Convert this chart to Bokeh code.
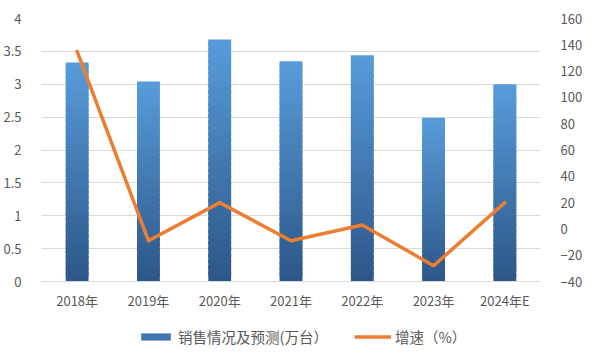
from bokeh.plotting import figure
from bokeh.layouts import column
from bokeh.models import (Range1d, LinearAxis, FixedTicker, Legend, LegendItem,
                          ColumnDataSource, FactorRange)
from bokeh.embed import file_html
from bokeh.resources import INLINE

years = ["2018年", "2019年", "2020年", "2021年", "2022年", "2023年", "2024年E"]
sales = [3.33, 3.04, 3.68, 3.35, 3.44, 2.49, 3.0]
growth = [135, -9, 20, -9, 3, -28, 20]
left_ticks = [0, 0.5, 1, 1.5, 2, 2.5, 3, 3.5, 4]
right_ticks = [-40, -20, 0, 20, 40, 60, 80, 100, 120, 140, 160]
bar_label = "销售情况及预测(万台）"
line_label = "增速（%）"

FONT = "Noto Sans CJK SC"
TXT = "#595959"
GRID = "#D9D9D9"
ORANGE = "#ED7D31"
LIGHT = (88, 156, 219)
DARK = (44, 86, 135)

p = figure(width=585, height=318, x_range=FactorRange(*years, range_padding=0),
           y_range=Range1d(0, 4), output_backend="svg", toolbar_location=None,
           min_border_left=33, min_border_right=44, min_border_top=18,
           min_border_bottom=37)
p.outline_line_color = None
p.xgrid.grid_line_color = None
p.ygrid.grid_line_color = GRID
p.ygrid.ticker = FixedTicker(ticks=left_ticks)
p.extra_y_ranges = {"y2": Range1d(-40, 160)}

# gradient bars built from stacked, slightly overlapping slices
N = 40
xs, bots, tops, cols = [], [], [], []
for yr, v in zip(years, sales):
    for i in range(N):
        t = (i + 0.5) / N
        c = tuple(int(round(DARK[k] + (LIGHT[k] - DARK[k]) * t)) for k in range(3))
        xs.append(yr)
        bots.append(v * i / N)
        tops.append(min(v, v * (i + 1.7) / N))
        cols.append("#%02x%02x%02x" % c)
src = ColumnDataSource(dict(x=xs, bottom=bots, top=tops, color=cols))
p.vbar(x="x", bottom="bottom", top="top", width=0.32, source=src,
       fill_color="color", line_color=None)

p.line(years, growth, y_range_name="y2", line_color=ORANGE,
       line_width=3.5, line_join="round", line_cap="round")

def style_axis(ax):
    ax.major_label_text_font = FONT
    ax.major_label_text_font_size = "13px"
    ax.major_label_text_color = TXT
    ax.major_tick_line_color = None
    ax.minor_tick_line_color = None

ax = p.xaxis[0]
style_axis(ax)
ax.axis_line_color = GRID
ax.major_label_standoff = 3

ly = p.yaxis[0]
style_axis(ly)
ly.axis_line_color = None
ly.ticker = FixedTicker(ticks=left_ticks)
ly.major_label_overrides = {t: ("%g" % t) for t in left_ticks}
ly.major_label_standoff = 14

ry = LinearAxis(y_range_name="y2", ticker=FixedTicker(ticks=right_ticks))
style_axis(ry)
ry.axis_line_color = None
ry.major_label_standoff = 14
p.add_layout(ry, "right")

# legend strip
q = figure(width=585, height=40, x_range=Range1d(0, 1), y_range=Range1d(0, 1),
           output_backend="svg", toolbar_location=None,
           x_axis_type=None, y_axis_type=None,
           min_border_left=0, min_border_right=0, min_border_top=0,
           min_border_bottom=0)
q.outline_line_color = None
q.xgrid.grid_line_color = None
q.ygrid.grid_line_color = None
bar_proxy = q.vbar(x=[0.5], bottom=[0], top=[0], width=0,
                   fill_color="#3F75B0", line_color=None)
line_proxy = q.line([0.5, 0.5], [0.5, 0.5], line_color=ORANGE, line_width=3.5,
                    line_alpha=1)

lg = Legend(items=[LegendItem(label=bar_label, renderers=[bar_proxy]),
                   LegendItem(label=line_label, renderers=[line_proxy])],
            location=(96, 11), orientation="horizontal",
            glyph_width=37, glyph_height=9, label_standoff=4,
            padding=0, margin=0, spacing=26, border_line_color=None,
            background_fill_alpha=0)
lg.label_text_font = FONT
lg.label_text_font_size = "14.5px"
lg.label_text_color = TXT
q.add_layout(lg, "center")

open("out.html", "w").write(file_html(column(p, q, spacing=0), INLINE))
